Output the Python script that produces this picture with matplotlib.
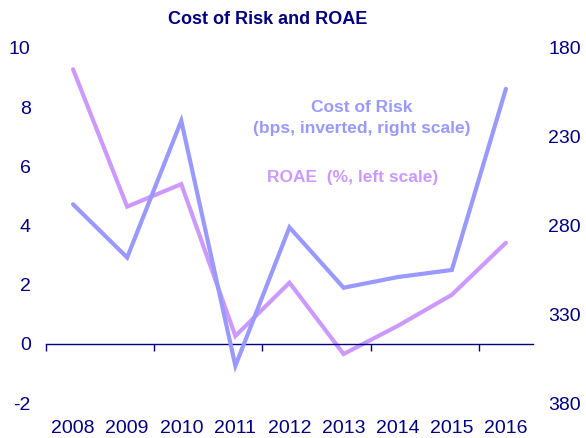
"""Cost of risk vs ROAE, two y scales (bps inverted on the right)."""

import matplotlib
matplotlib.use('Agg')
import matplotlib.pyplot as plt
from matplotlib import transforms

years = ['2008', '2009', '2010', '2011', '2012', '2013', '2014', '2015', '2016']
roae = [9.28, 4.64, 5.40, 0.27, 2.07, -0.34, 0.61, 1.66, 3.42]          # %, left scale
costOfRisk = [268, 298, 221, 359, 281, 315, 309, 305, 203]              # bps, right scale

leftTicks = [-2, 0, 2, 4, 6, 8, 10]
rightTicks = [180, 230, 280, 330, 380]

navy = '#000080'
blue = '#9999FF'
lilac = '#CC99FF'

plt.rcParams['font.family'] = ['Liberation Sans', 'DejaVu Sans']

fig = plt.figure(figsize=(5.86, 4.38), dpi=100)
ax = fig.add_axes([0.0785, 0.0795, 0.831, 0.811])
ax2 = ax.twinx()

x = list(range(len(years)))
ax.plot(x, roae, color=lilac, lw=3, solid_capstyle='round', solid_joinstyle='miter')
ax2.plot(x, costOfRisk, color=blue, lw=3, solid_capstyle='round', solid_joinstyle='miter')

ax.set_xlim(-0.5, len(years) - 0.5)
ax.set_ylim(-2, 10)
ax2.set_ylim(380, 180)

# category axis sits on the zero line, ticks between every second pair of years
for sp in ['top', 'left', 'right']:
    ax.spines[sp].set_visible(False)
for sp in ax2.spines.values():
    sp.set_visible(False)
ax.spines['bottom'].set_position(('data', 0))
ax.spines['bottom'].set_color(navy)
ax.spines['bottom'].set_linewidth(1)
ax.set_xticks([i - 0.5 for i in range(0, len(years) + 1, 2)])
ax.tick_params(axis='x', direction='out', length=5, width=1, color=navy, labelbottom=False)

# year labels go at the bottom of the plot, not on the axis line
trans = transforms.blended_transform_factory(ax.transData, ax.transAxes)
for i, yr in enumerate(years):
    ax.text(i, -0.07, yr, transform=trans, ha='center', va='center', fontsize=14, color=navy)

ax.set_yticks(leftTicks)
ax.set_yticklabels([str(v) for v in leftTicks])
ax.tick_params(axis='y', length=0, pad=11, labelsize=14, labelcolor=navy)
ax2.set_yticks(rightTicks)
ax2.set_yticklabels([str(v) for v in rightTicks])
ax2.tick_params(axis='y', length=0, pad=11, labelsize=14, labelcolor=navy)

fig.text(268/586, 1 - 20/438, 'Cost of Risk and ROAE', ha='center', va='center',
         fontsize=13, fontweight='bold', color=navy)
fig.text(362/586, 1 - 107/438, 'Cost of Risk', ha='center', va='center',
         fontsize=12.5, fontweight='bold', color=blue)
fig.text(362/586, 1 - 128/438, '(bps, inverted, right scale)', ha='center', va='center',
         fontsize=12.5, fontweight='bold', color=blue)
fig.text(353/586, 1 - 178/438, 'ROAE  (%, left scale)', ha='center', va='center',
         fontsize=12.5, fontweight='bold', color=lilac)

fig.savefig('out.png', dpi=100)
